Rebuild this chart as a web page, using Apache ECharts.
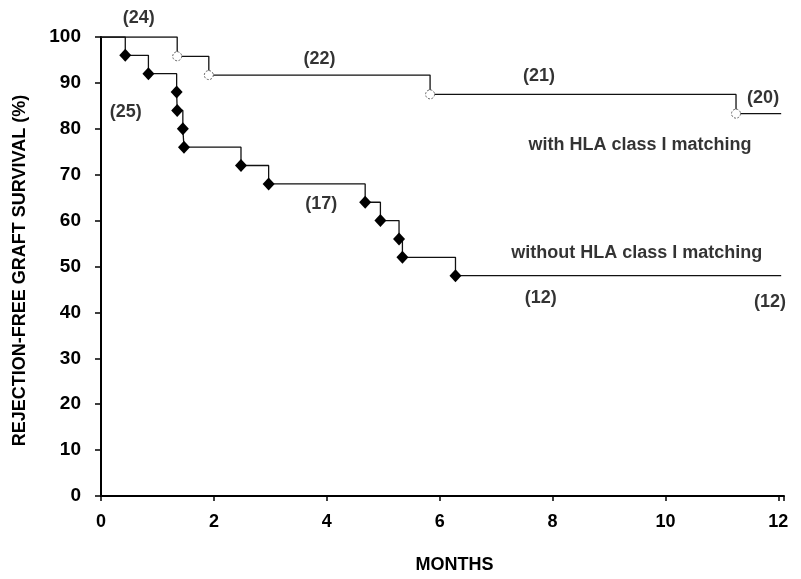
<!DOCTYPE html>
<html>
<head>
<meta charset="utf-8">
<script src="https://cdn.jsdelivr.net/npm/echarts@6/dist/echarts.min.js"></script>
<style>
  html, body { margin: 0; padding: 0; background: #fff; }
  #chart { width: 801px; height: 579px; }
</style>
</head>
<body>
<div id="chart"></div>
<script>
// Kaplan-Meier steps (months, % surviving)
var withTimes = [1.35, 1.91, 5.83, 11.25];
var withSurv = [95.8, 91.7, 87.5, 83.3];
var withEnd = 12.05;

var withoutTimes = [0.43, 0.84, 1.34, 1.35, 1.45, 1.47, 2.48, 2.97, 4.68, 4.95, 5.28, 5.34, 6.28];
var withoutSurv = [96, 92, 88, 84, 80, 76, 72, 68, 64, 60, 56, 52, 48];
var withoutEnd = 12.05;

// number-at-risk and curve labels: [month, percent, text]
var annotations = [
    [0.67, 104.2, '(24)'],
    [0.44, 83.6, '(25)'],
    [3.87, 95.2, '(22)'],
    [7.76, 91.4, '(21)'],
    [11.73, 86.7, '(20)'],
    [3.9, 63.6, '(17)'],
    [7.79, 43.1, '(12)'],
    [11.85, 42.3, '(12)'],
    [9.55, 76.4, 'with HLA class I matching'],
    [9.49, 53.0, 'without HLA class I matching']
];

var xTicks = [0, 2, 4, 6, 8, 10, 12];

function stepData(times, surv, end) {
    var d = [{value: [0, 100], symbol: 'none'}];
    for (var i = 0; i < times.length; i++) {
        d.push({value: [times[i], surv[i]]});
    }
    d.push({value: [end, surv[surv.length - 1]], symbol: 'none'});
    return d;
}

var dom = document.getElementById('chart');
var myChart = echarts.init(dom);
var boldFont = "'Liberation Sans', Arial, sans-serif";
var narrowFont = "'Liberation Sans Narrow', 'Liberation Sans', Arial, sans-serif";

var option = {
    backgroundColor: '#fff',
    animation: false,
    grid: {
        left: 101,
        right: 17,
        top: 37,
        bottom: 78
    },
    xAxis: {
        type: 'value',
        min: 0,
        max: 12.1,
        interval: 2,
        name: 'MONTHS',
        nameLocation: 'middle',
        nameGap: 60,
        nameTextStyle: {
            color: '#000',
            fontFamily: narrowFont,
            fontWeight: 'bold',
            fontSize: 18,
            letterSpacing: 3,
            padding: [0, 0, 0, 24]
        },
        axisLine: { lineStyle: { color: '#000', width: 2 } },
        axisTick: { show: true, length: 5, lineStyle: { color: '#000', width: 1.5 } },
        axisLabel: {
            margin: 17,
            color: '#000',
            fontFamily: narrowFont,
            fontWeight: 'bold',
            fontSize: 18,
            customValues: xTicks,
            formatter: function (v) { return v <= 12 ? String(v) : ''; }
        },
        splitLine: { show: false }
    },
    yAxis: {
        type: 'value',
        min: 0,
        max: 100,
        interval: 10,
        name: 'REJECTION-FREE GRAFT SURVIVAL (%)',
        nameLocation: 'middle',
        nameGap: 72,
        nameRotate: 90,
        nameTextStyle: {
            color: '#000',
            fontFamily: boldFont,
            fontWeight: 'bold',
            fontSize: 18,
            letterSpacing: 1,
            padding: [0, 8, 0, 0]
        },
        axisLine: { show: true, lineStyle: { color: '#000', width: 2 } },
        axisTick: { show: true, length: 6, lineStyle: { color: '#000', width: 1.5 } },
        axisLabel: {
            margin: 20,
            color: '#000',
            fontFamily: boldFont,
            fontWeight: 'bold',
            fontSize: 19,
            padding: [6, 0, 0, 0]
        },
        splitLine: { show: false }
    },
    series: [
        {
            name: 'with HLA class I matching',
            type: 'line',
            step: 'end',
            data: stepData(withTimes, withSurv, withEnd),
            symbol: 'circle',
            symbolSize: 9,
            showAllSymbol: true,
            lineStyle: { color: '#111', width: 1.3 },
            itemStyle: {
                color: '#fff',
                borderColor: '#666',
                borderWidth: 1,
                borderType: [2, 1.5]
            },
            z: 3
        },
        {
            name: 'without HLA class I matching',
            type: 'line',
            step: 'end',
            data: stepData(withoutTimes, withoutSurv, withoutEnd),
            symbol: 'diamond',
            symbolSize: [12, 13],
            showAllSymbol: true,
            lineStyle: { color: '#111', width: 1.3 },
            itemStyle: { color: '#000' },
            z: 4
        },
        {
            name: 'labels',
            type: 'scatter',
            silent: true,
            clip: false,
            symbolSize: 0,
            data: annotations.map(function (a) {
                return { value: [a[0], a[1]], name: a[2] };
            }),
            label: {
                show: true,
                position: 'inside',
                formatter: '{b}',
                color: '#000',
                fontFamily: boldFont,
                fontWeight: 'bold',
                fontSize: 18
            }
        }
    ]
};

myChart.setOption(option);
</script>
</body>
</html>
